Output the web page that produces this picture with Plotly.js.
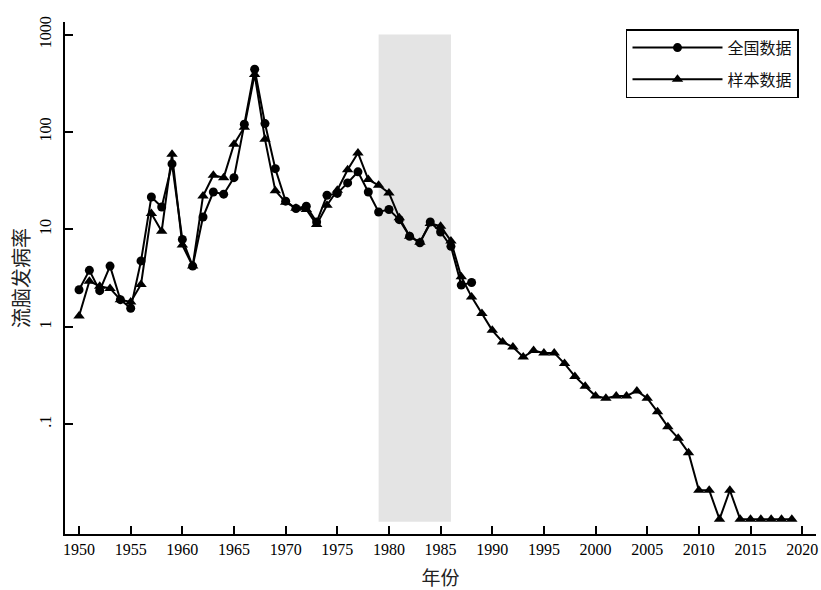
<!DOCTYPE html>
<html>
<head>
<meta charset="utf-8">
<script src="https://cdn.plot.ly/plotly-3.0.1.min.js"></script>
<style>html,body{margin:0;padding:0;background:#fff;}#chart{width:821px;height:590px;}</style>
</head>
<body>
<div id="chart"></div>
<script>
// National data (全国数据), 1950-1988
var nationalYears = [1950,1951,1952,1953,1954,1955,1956,1957,1958,1959,1960,1961,1962,1963,1964,1965,1966,1967,1968,1969,1970,1971,1972,1973,1974,1975,1976,1977,1978,1979,1980,1981,1982,1983,1984,1985,1986,1987,1988];
var nationalRates = [2.4,3.8,2.35,4.2,1.9,1.55,4.75,21.5,17,47,7.9,4.2,13.4,24.2,23,34,120,440,122,42,19.5,16.4,17.3,11.9,22.4,23.4,30,39,24.2,15.1,16,12.6,8.5,7.3,11.9,9.4,6.7,2.68,2.85];

// Sample data (样本数据), 1950-2019
var sampleYears = [1950,1951,1952,1953,1954,1955,1956,1957,1958,1959,1960,1961,1962,1963,1964,1965,1966,1967,1968,1969,1970,1971,1972,1973,1974,1975,1976,1977,1978,1979,1980,1981,1982,1983,1984,1985,1986,1987,1988,1989,1990,1991,1992,1993,1994,1995,1996,1997,1998,1999,2000,2001,2002,2003,2004,2005,2006,2007,2008,2009,2010,2011,2012,2013,2014,2015,2016,2017,2018,2019];
var sampleRates = [1.29,2.94,2.61,2.48,1.9,1.8,2.72,14.6,9.6,59,6.9,4.2,22,36,34,75,112,390,84,25,19,16.5,16,11.2,17.7,25.2,41,61,32.5,28.4,23.7,13.2,8.5,7.4,11.5,10.8,7.6,3.26,2.03,1.37,0.92,0.70,0.62,0.49,0.57,0.54,0.54,0.42,0.31,0.246,0.195,0.185,0.195,0.195,0.22,0.185,0.134,0.094,0.072,0.051,0.021,0.021,0.0106,0.021,0.0106,0.0106,0.0106,0.0106,0.0106,0.0106];

// Shaded period
var shadeStart = 1979, shadeEnd = 1986;

var xTickVals = [1950,1955,1960,1965,1970,1975,1980,1985,1990,1995,2000,2005,2010,2015,2020];
var yTickVals = [0.1,1,10,100,1000];
var yTickText = ['.1','1','10','100','1000'];

var seriesNames = ['全国数据','样本数据'];

var traces = [
  {x: nationalYears, y: nationalRates, name: seriesNames[0], legendgroup:'g1', type:'scatter', mode:'lines+markers',
   line:{color:'#000', width:2}, marker:{symbol:'circle', size:9, color:'#000'}},
  {x: sampleYears, y: sampleRates, name: seriesNames[1], legendgroup:'g2', type:'scatter', mode:'lines+markers',
   line:{color:'#000', width:2}, marker:{symbol:'triangle-up', size:10, color:'#000'}}
];

var serif = 'Liberation Serif, Times New Roman, serif';
var cjk = 'Noto Sans CJK SC, sans-serif';

var layout = {
  width:821, height:590,
  margin:{l:65, r:5, t:22, b:56},
  paper_bgcolor:'#fff', plot_bgcolor:'#fff',
  showlegend:true,
  legend:{x:0.747, y:0.986, xanchor:'left', yanchor:'top', bordercolor:'#000', borderwidth:1.5,
    bgcolor:'#fff', font:{family:cjk, size:16, color:'#111'}, itemwidth:90, tracegroupgap:8,
    traceorder:'grouped'},
  xaxis:{range:[1948.64, 2021.34], tickvals:xTickVals, ticks:'inside', ticklen:8, tickwidth:1.5, tickcolor:'#000',
    showline:true, linecolor:'#000', linewidth:2, showgrid:false, zeroline:false,
    tickfont:{family:serif, size:16, color:'#000'},
    title:{text:'年份', font:{family:cjk, size:19, color:'#222'}, standoff:14}},
  yaxis:{type:'log', range:[-2.1265, 3.129], tickvals:yTickVals, ticktext:yTickText, tickangle:-90,
    ticks:'inside', ticklen:8, tickwidth:1.5, tickcolor:'#000',
    showline:true, linecolor:'#000', linewidth:2, showgrid:false, zeroline:false,
    tickfont:{family:serif, size:16, color:'#000'}, ticklabelstandoff:6,
    title:{text:'流脑发病率', font:{family:cjk, size:20, color:'#222'}, standoff:2}},
  shapes:[{type:'rect', xref:'x', yref:'y', x0:shadeStart, x1:shadeEnd, y0:0.01, y1:1000,
    fillcolor:'#e4e4e4', line:{width:0}, layer:'below'}]
};

Plotly.newPlot('chart', traces, layout, {displayModeBar:false});
</script>
</body>
</html>
